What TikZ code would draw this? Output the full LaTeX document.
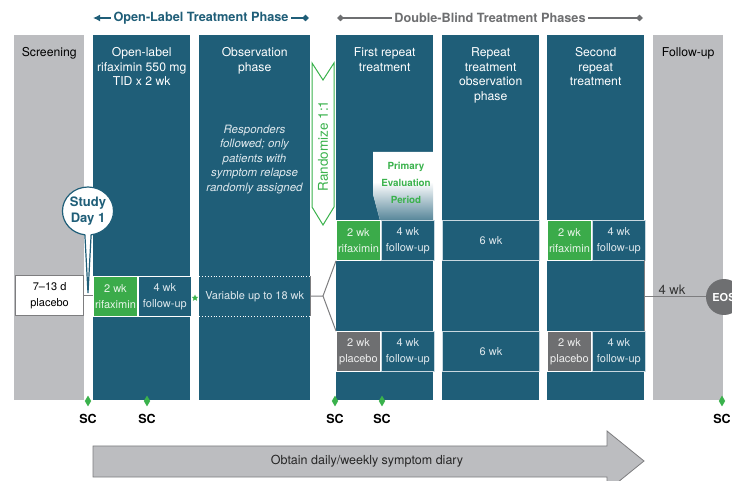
\documentclass[tikz,border=0pt]{standalone}
\usepackage{fontspec}
\setmainfont{TeX Gyre Heros}
\usetikzlibrary{arrows.meta,positioning,shapes.geometric,shapes.callouts}

\definecolor{phaseblue}{RGB}{31,94,120}
\definecolor{screengray}{RGB}{188,189,192}
\definecolor{rxgreen}{RGB}{59,171,74}
\definecolor{labelgreen}{RGB}{58,178,76}
\definecolor{pbogray}{RGB}{110,111,113}
\definecolor{celltext}{RGB}{222,232,237}
\definecolor{cellline}{RGB}{200,216,224}
\definecolor{linkgray}{RGB}{125,125,127}
\definecolor{headgray}{RGB}{110,111,113}

\tikzset{
  phase/.style={rectangle, fill=phaseblue, minimum height=365pt, anchor=north west, inner sep=0pt},
  phasetitle/.style={anchor=north, inner sep=0pt, yshift=-12.5pt, align=center, text=white,
    font=\fontsize{12.2}{14.5}\selectfont},
  cell/.style={rectangle, draw=cellline, line width=0.9pt, minimum height=40pt, anchor=north west,
    inner sep=0pt, align=center, text=celltext, font=\fontsize{11}{16}\selectfont},
  rxcell/.style={cell, fill=rxgreen, draw=white, text=white!88!rxgreen, minimum width=44pt},
  pbocell/.style={cell, fill=pbogray, draw=white, text=white!88!pbogray, minimum width=44pt},
  fucell/.style={cell, fill=phaseblue, minimum width=53pt},
  scmark/.style={diamond, fill=labelgreen, minimum width=6.5pt, minimum height=11pt, inner sep=0pt},
  sclabel/.style={font=\fontsize{12.5}{14}\selectfont\bfseries},
  track/.style={line width=2pt},
  link/.style={linkgray, line width=1pt}
}

\begin{document}
\begin{tikzpicture}[x=1pt,y=-1pt]
\useasboundingbox (0,0) rectangle (732,481);
\clip (0,0) rectangle (732,481);

% phase headers
\draw[track, phaseblue, {Latex[length=7pt,width=7pt]}-{Kite[length=7pt,width=6.5pt,inset=3.5pt]}]
  (93,18) -- (309,18) node[midway, fill=white, inner xsep=2.5pt, text=phaseblue,
  font=\fontsize{12.7}{14}\selectfont\bfseries] (olhead) {Open-Label Treatment Phase};
\draw[track, headgray, {Kite[length=7pt,width=6.5pt,inset=3.5pt]}-{Kite[length=7pt,width=6.5pt,inset=3.5pt]}]
  (337,18) -- (643,18) node[midway, fill=white, inner xsep=2.5pt, text=headgray,
  font=\fontsize{12.7}{14}\selectfont\bfseries] (dbhead) {Double-Blind Treatment Phases};

% columns
\node[phase, fill=screengray, minimum width=70pt] (scr) at (14,35) {};
\node[phase, minimum width=97pt] (olab) at (93,35) {};
\node[phase, minimum width=111pt] (obs) at (199,35) {};
\node[phase, minimum width=97pt] (rep1) at (336,35) {};
\node[phase, minimum width=97pt] (repobs) at (442,35) {};
\node[phase, minimum width=97pt] (rep2) at (547,35) {};
\node[phase, fill=screengray, minimum width=70pt] (fup) at (653,35) {};

\node[phasetitle, text=black] at (scr.north) {Screening};
\node[phasetitle] at (olab.north) {Open-label\\rifaximin 550 mg\\TID x 2 wk};
\node[phasetitle] at (obs.north) {Observation\\phase};
\node[phasetitle] at (rep1.north) {First repeat\\treatment};
\node[phasetitle] at (repobs.north) {Repeat\\treatment\\observation\\phase};
\node[phasetitle] at (rep2.north) {Second\\repeat\\treatment};
\node[phasetitle, text=black] at (fup.north) {Follow-up};

\node[anchor=north, inner sep=0pt, align=center, text=celltext,
  font=\fontsize{11.5}{14.5}\selectfont\itshape] (obsnote) at (254.5,124.5)
  {Responders\\followed; only\\patients with\\symptom relapse\\randomly assigned};

% randomisation arrow
\draw[draw=labelgreen, fill=white, line width=1pt]
  (312,63) -- (323,80) -- (334,63) -- (334,207) -- (323,225) -- (312,207) -- cycle;
\node[rotate=90, text=labelgreen, font=\fontsize{13.5}{14}\selectfont] (rand) at (323,146) {Randomize 1:1};

% primary evaluation period
\fill[white] (373,152) -- (433,152) -- (433,220) -- (380,220) -- (373,194) -- cycle;
\shade[top color=white, bottom color=phaseblue!75] (373,182) -- (433,182) -- (433,220) -- (380,220) -- (373,194) -- cycle;
\node[align=center, text=labelgreen, font=\fontsize{9.8}{17}\selectfont\bfseries] (pep) at (406,183) {Primary\\Evaluation\\Period};

% open-label rows
\node[rxcell] (olrx) at (93,276) {2 wk\\rifaximin};
\node[fucell, draw=white] (olfu) at (olrx.north east) {4 wk\\follow-up};
\node[rectangle, minimum width=111pt, minimum height=40pt, anchor=north west, inner sep=0pt,
  text=celltext, font=\fontsize{11}{14}\selectfont] (varband) at (199,276) {Variable up to 18 wk};
\draw[white, dotted, line width=0.9pt] (varband.north west) -- (varband.north east)
  (varband.south west) -- (varband.south east);
\draw[link] (varband.north east) -- (varband.south east);
\node[star, star points=5, star point ratio=2.2, fill=labelgreen, minimum size=7pt, inner sep=0pt] (star) at (195,298) {};

% screening placebo and study day 1
\node[draw=linkgray, line width=1.2pt, fill=white, minimum width=68pt, minimum height=40pt,
  anchor=north west, inner sep=0pt, align=center, font=\fontsize{11}{16}\selectfont] (pbo) at (15,275) {7--13 d\\placebo};
\draw[link] (pbo.east) -- (pbo.east -| olrx.west);
\node[ellipse callout, draw=phaseblue, line width=1.2pt, fill=white, minimum width=49pt, minimum height=48pt,
  inner sep=0pt, align=center, text=phaseblue, font=\fontsize{13}{16}\selectfont\bfseries,
  callout absolute pointer={(88,293)}, callout pointer arc=14] (day1) at (88,211) {Study\\Day 1};

% first repeat treatment
\node[rxcell] (r1rx) at (336,220) {2 wk\\rifaximin};
\node[fucell] (r1fu) at (r1rx.north east) {4 wk\\follow-up};
\node[pbocell] (r1pb) at (336,331) {2 wk\\placebo};
\node[fucell] (r1pfu) at (r1pb.north east) {4 wk\\follow-up};

% repeat treatment observation
\node[cell, fill=phaseblue, minimum width=97pt] (ro6a) at (442,220) {6 wk};
\node[cell, fill=phaseblue, minimum width=97pt] (ro6b) at (442,331) {6 wk};

% second repeat treatment
\node[rxcell] (r2rx) at (547,220) {2 wk\\rifaximin};
\node[fucell] (r2fu) at (r2rx.north east) {4 wk\\follow-up};
\node[pbocell] (r2pb) at (547,331) {2 wk\\placebo};
\node[fucell] (r2pfu) at (r2pb.north east) {4 wk\\follow-up};
\node[rectangle, minimum width=97pt, minimum height=71pt, anchor=north west, inner sep=0pt] (r2mid) at (547,260) {};
\draw[link] (r2mid.north east) -- (r2mid.south east);

% randomisation fork
\coordinate (fork) at (323,296);
\draw[link] (varband.east) -- (fork) -- (r1rx.south west);
\draw[link] (fork) -- (r1pb.north west);

% end of study
\node[circle, fill=pbogray, minimum size=36pt, inner sep=0pt, text=white,
  font=\fontsize{11}{12}\selectfont\bfseries] (eos) at (724,297) {EOS};
\draw[link] (r2mid.east |- eos) -- node[pos=0.45, above, inner sep=2pt, text=black!80,
  font=\fontsize{13}{14}\selectfont] (fourwk) {4 wk} (eos);

% symptom checks
\foreach \sx [count=\i] in {88,147,335,382,722} {
  \node[scmark] (sc\i) at (\sx,401) {};
  \node[sclabel] (sct\i) at (\sx,419) {SC};
}

% diary arrow
\draw[fill=screengray, draw=linkgray, line width=0.8pt]
  (93,446) -- (607,446) -- (607,431) -- (644,461) -- (607,491) -- (607,477) -- (93,477) -- cycle;
\node[font=\fontsize{12.5}{14}\selectfont, text=black!85] (diary) at (367,461.5) {Obtain daily/weekly symptom diary};
\end{tikzpicture}
\end{document}
